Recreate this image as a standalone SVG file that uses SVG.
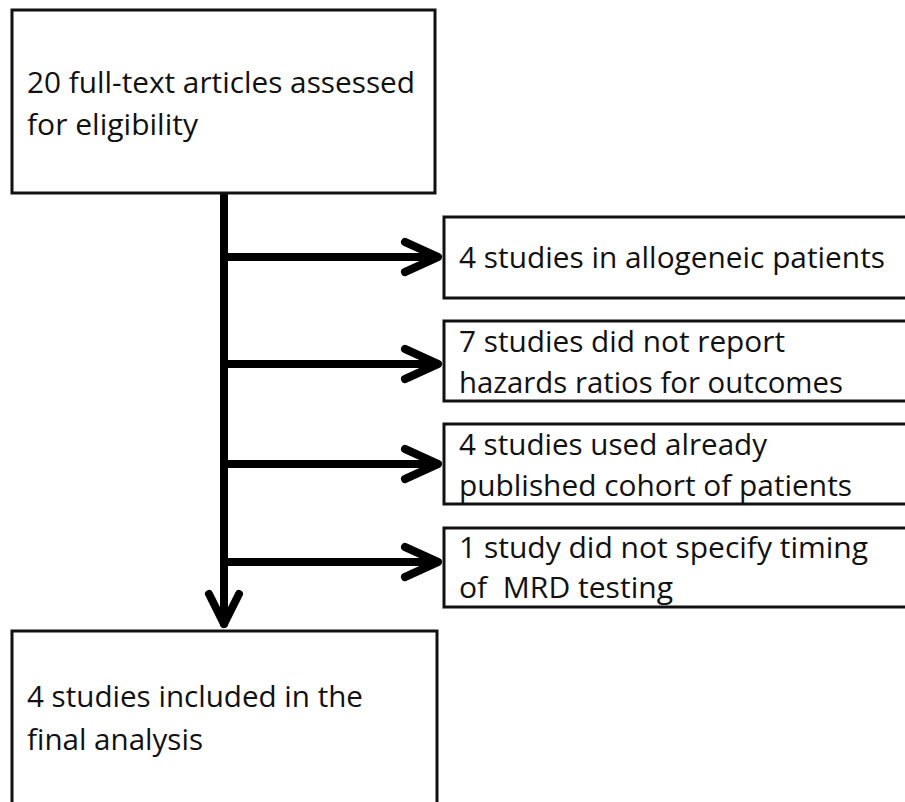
<svg xmlns="http://www.w3.org/2000/svg" width="905" height="802" viewBox="0 0 905 802">
<style>
.box{fill:#fff;stroke:#111;stroke-width:3}
.t{font-family:"Open Sans","Liberation Sans",sans-serif;font-size:29px;fill:#111}
.c{fill:none;stroke:#000;stroke-width:8;stroke-linecap:round;stroke-linejoin:round}
</style>
<rect width="905" height="802" fill="#fff"/>
<g id="connectors">
<path class="c" d="M224 193 V624"/>
<path class="c" d="M209 594 L224 624 L239 594"/>
<path class="c" d="M224 257 H437 M405 242 L438 257 L405 272"/>
<path class="c" d="M224 364 H437 M405 349 L438 364 L405 379"/>
<path class="c" d="M224 464 H437 M405 449 L438 464 L405 479"/>
<path class="c" d="M224 562 H437 M405 547 L438 562 L405 577"/>
</g>
<g id="n1"><rect class="box" x="12" y="10" width="423" height="183"/>
<text class="t" x="27" y="93" textLength="388" lengthAdjust="spacingAndGlyphs">20 full-text articles assessed</text>
<text class="t" x="27" y="135" textLength="171" lengthAdjust="spacingAndGlyphs">for eligibility</text></g>
<g id="n2"><rect class="box" x="444" y="217" width="470" height="81"/>
<text class="t" x="459" y="268" textLength="426" lengthAdjust="spacingAndGlyphs">4 studies in allogeneic patients</text></g>
<g id="n3"><rect class="box" x="444" y="321" width="470" height="80"/>
<text class="t" x="459" y="352" textLength="326" lengthAdjust="spacingAndGlyphs">7 studies did not report</text>
<text class="t" x="459" y="393" textLength="384" lengthAdjust="spacingAndGlyphs">hazards ratios for outcomes</text></g>
<g id="n4"><rect class="box" x="444" y="424" width="470" height="80"/>
<text class="t" x="459" y="455" textLength="308" lengthAdjust="spacingAndGlyphs">4 studies used already</text>
<text class="t" x="459" y="496" textLength="393" lengthAdjust="spacingAndGlyphs">published cohort of patients</text></g>
<g id="n5"><rect class="box" x="444" y="528" width="470" height="79"/>
<text class="t" x="459" y="558" textLength="409" lengthAdjust="spacingAndGlyphs">1 study did not specify timing</text>
<text class="t" x="459" y="598" textLength="214" lengthAdjust="spacingAndGlyphs" xml:space="preserve">of  MRD testing</text></g>
<g id="n6"><rect class="box" x="12" y="631" width="425" height="180"/>
<text class="t" x="27" y="707" textLength="336" lengthAdjust="spacingAndGlyphs">4 studies included in the</text>
<text class="t" x="27" y="750" textLength="176" lengthAdjust="spacingAndGlyphs">final analysis</text></g>
</svg>
